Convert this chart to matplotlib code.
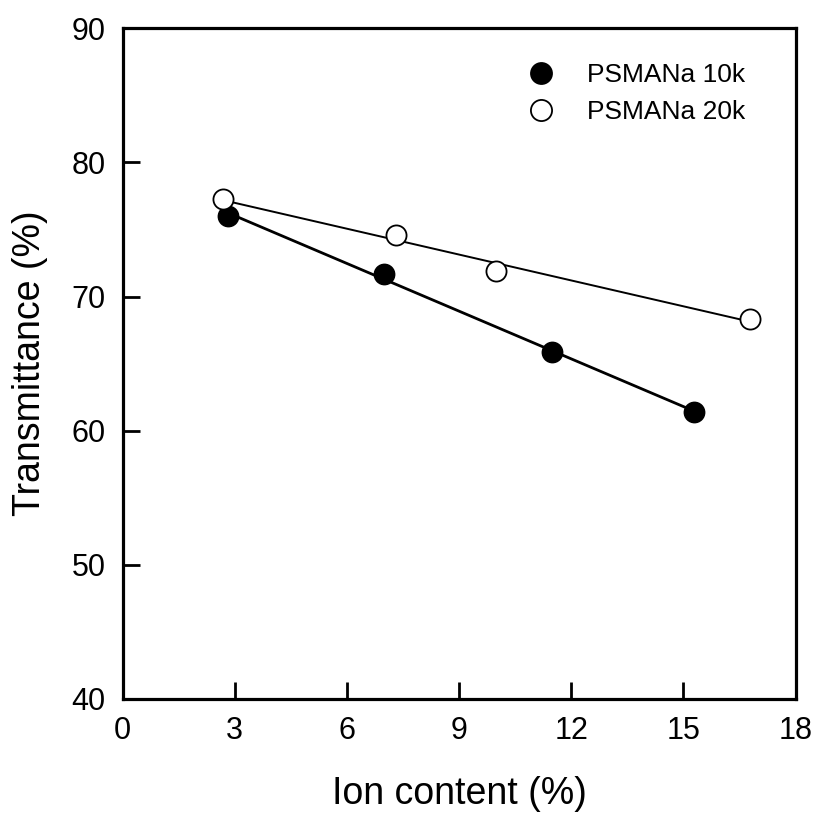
import numpy as np
import matplotlib
matplotlib.use("Agg")
import matplotlib.pyplot as plt

plt.rcParams['font.family'] = ['Liberation Sans', 'DejaVu Sans']

# Data
x_10k = [2.83, 6.99, 11.49, 15.29]
y_10k = [76.0, 71.68, 65.88, 61.39]
x_20k = [2.70, 7.31, 9.99, 16.78]
y_20k = [77.25, 74.56, 71.88, 68.34]
labels = ["PSMANa 10k", "PSMANa 20k"]
xticks = [0, 3, 6, 9, 12, 15, 18]
yticks = [40, 50, 60, 70, 80, 90]

fig = plt.figure(figsize=(8.17, 8.18), dpi=100)
ax = fig.add_axes([122.5/817, 1-699/818, 673/817, (699-28.3)/818])

# regression lines
for xs, ys, lw in [(x_10k, y_10k, 2.0), (x_20k, y_20k, 1.4)]:
    p = np.polyfit(xs, ys, 1)
    xl = np.array([min(xs), max(xs)])
    ax.plot(xl, np.polyval(p, xl), color='black', lw=lw, zorder=2)

ax.plot(x_10k, y_10k, 'o', ms=14.5, mfc='black', mec='black', mew=1.2,
        ls='none', label=labels[0], zorder=3)
ax.plot(x_20k, y_20k, 'o', ms=14.5, mfc='white', mec='black', mew=1.3,
        ls='none', label=labels[1], zorder=3)

ax.set_xlim(0, 18)
ax.set_ylim(40, 90)
ax.set_xticks(xticks)
ax.set_yticks(yticks)
ax.tick_params(direction='in', length=12, width=2.0, labelsize=22, pad=12)
for s in ax.spines.values():
    s.set_linewidth(2.3)

ax.set_xlabel("Ion content (%)", fontsize=27, labelpad=22)
ax.set_ylabel("Transmittance (%)", fontsize=27)
ax.yaxis.set_label_coords(-0.111, 0.5)

leg = ax.legend(loc='upper left', bbox_to_anchor=(527.7/817, 1-63/818),
                bbox_transform=fig.transFigure, frameon=False, fontsize=19,
                handlelength=1.0, handletextpad=1.25, labelspacing=0.5,
                borderpad=0, borderaxespad=0, numpoints=1, markerscale=1.05)

fig.savefig("out.png", dpi=100)
